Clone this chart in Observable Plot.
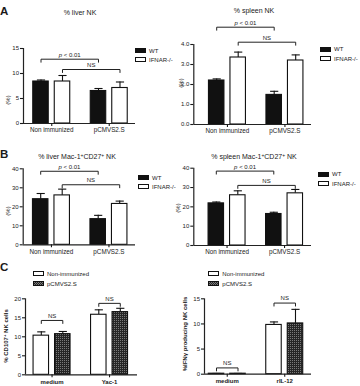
<!DOCTYPE html>
<html>
<head>
<meta charset="utf-8">
<script src="https://cdn.jsdelivr.net/npm/d3@7"></script>
<script src="https://cdn.jsdelivr.net/npm/@observablehq/plot@0.6"></script>
<style>
  body { margin: 0; background: #fff; }
  #fig { position: relative; width: 360px; height: 386px; overflow: hidden;
         font-family: "Liberation Sans", Arial, Helvetica, sans-serif; color: #1a1a1a; }
  #fig svg.plot { position: absolute; overflow: visible; }
  .abs { position: absolute; white-space: nowrap; line-height: 1; }
  .letter { font-weight: bold; font-size: 11.5px; }
  .title { font-size: 7px; transform: translateX(-50%); }
  .leg { font-size: 6px; display: flex; align-items: center; height: 5px; }
  .sw { box-sizing: border-box; width: 11px; height: 5px; border: 1px solid #111; margin-right: 3px; }
  .ylab { font-size: 6px; transform: translate(-50%, -50%) rotate(-90deg); }
  .bold { font-weight: bold; }
  sup { font-size: 70%; line-height: 0; vertical-align: 0.45em; }
</style>
</head>
<body>
<svg width="0" height="0" style="position:absolute">
  <defs>
    <pattern id="dots" width="2" height="2" patternUnits="userSpaceOnUse">
      <rect width="2" height="2" fill="#262626"></rect>
      <rect width="1" height="1" fill="#7a7a7a"></rect>
    </pattern>
  </defs>
</svg>
<div id="fig"></div>
<script>
// ---- data (means and SEM, order: group 1 series 1, group 1 series 2, group 2 series 1, group 2 series 2)
const immGroups = ["Non immunized", "pCMVS2.S"];
const mouseSeries = ["WT", "IFNAR-/-"];

const liverNK = [8.4, 8.4, 6.5, 7.1];
const liverNKsem = [0.3, 1.2, 0.5, 1.2];

const spleenNK = [2.2, 3.35, 1.48, 3.2];
const spleenNKsem = [0.08, 0.27, 0.18, 0.28];

const liverMac = [24.0, 26.0, 13.5, 21.5];
const liverMacSem = [3.0, 3.3, 2.0, 1.5];

const spleenMac = [21.8, 26.0, 16.3, 27.0];
const spleenMacSem = [0.7, 2.3, 0.9, 2.0];

const stimGroupsC1 = ["medium", "Yac-1"];
const stimGroupsC2 = ["medium", "rIL-12"];
const immSeries = ["Non-immunized", "pCMVS2.S"];

const cd107 = [10.3, 10.7, 15.8, 16.5];
const cd107sem = [1.0, 0.7, 1.3, 1.0];

const ifng = [0.1, 0.1, 9.8, 10.1];
const ifngSem = [0.05, 0.05, 0.6, 2.8];

// ---- drawing helpers
const fig = document.getElementById("fig");
const BAR_STEP = 21.5;     // px between neighbouring bars of a group
const GROUP_STEP = 2.674;  // distance between groups, in bar steps
const HALF_BAR = 0.36;
const HALF_CAP = 0.19;

function addDiv(cls, html, left, top) {
  const d = document.createElement("div");
  d.className = "abs " + cls;
  d.innerHTML = html;
  d.style.left = left + "px";
  d.style.top = top + "px";
  fig.appendChild(d);
  return d;
}

function legend(items, left, top, gap) {
  items.forEach(([label, fill], i) => {
    const d = addDiv("leg", "", left, top + i * gap);
    const sw = document.createElement("div");
    sw.className = "sw";
    sw.style.background = fill === "url(#dots)" ? "repeating-conic-gradient(#262626 0 25%, #7a7a7a 0 50%) 0 0/2px 2px" : fill;
    d.appendChild(sw);
    d.appendChild(document.createTextNode(label));
  });
}

function panel(cfg) {
  const {groups, series, mean, sem, fills, yMax, yTicks, box, brackets, boldX} = cfg;
  const {left, top, w, h, axisL, axisR, firstC, y0, yTop} = box;
  const rows = mean.map((v, i) => {
    const g = Math.floor(i / series.length), s = i % series.length;
    return {g, s, v, e: sem[i], c: g * GROUP_STEP + s};
  });
  const centers = groups.map((_, g) => g * GROUP_STEP + (series.length - 1) / 2);
  const x0 = (axisL - firstC) / BAR_STEP, x1 = (axisR - firstC) / BAR_STEP;
  const leg = 3 / ((y0 - yTop) / yMax);
  const pts = [];
  brackets.forEach((b, k) => {
    const xa = rows[b.from].c, xb = rows[b.to].c;
    pts.push({k, x: xa, y: b.level - leg}, {k, x: xa, y: b.level},
             {k, x: xb, y: b.level}, {k, x: xb, y: b.level - leg});
  });
  const bars = series.map((_, s) =>
    Plot.rectY(rows.filter(d => d.s === s), {
      x1: d => d.c - HALF_BAR, x2: d => d.c + HALF_BAR, y: "v",
      fill: fills[s], stroke: "#111", strokeWidth: 1.1
    }));
  const svg = Plot.plot({
    width: w, height: h,
    marginLeft: axisL, marginRight: w - axisR, marginTop: yTop, marginBottom: h - y0,
    x: {domain: [x0, x1]},
    y: {domain: [0, yMax]},
    style: {fontFamily: '"Liberation Sans", Arial, sans-serif', fontSize: "6px", color: "#1a1a1a", background: "transparent", overflow: "visible"},
    marks: [
      Plot.ruleX(rows, {x: "c", y1: "v", y2: d => d.v + d.e, strokeWidth: 1.1, stroke: "#111"}),
      Plot.link(rows, {x1: d => d.c - HALF_CAP, x2: d => d.c + HALF_CAP, y1: d => d.v + d.e, y2: d => d.v + d.e, strokeWidth: 1.1, stroke: "#111"}),
      ...bars,
      Plot.ruleY([0], {x1: x0, x2: x1, strokeWidth: 1.2, stroke: "#222"}),
      Plot.ruleX([x0], {y1: 0, y2: yMax, strokeWidth: 1.2, stroke: "#222"}),
      Plot.axisY({ticks: yTicks, tickSize: 3, tickPadding: 1.5, label: null, strokeWidth: 1.1}),
      Plot.axisX({ticks: centers, tickFormat: d => groups[centers.indexOf(d)], tickSize: 3, tickPadding: 1.5,
                  label: null, strokeWidth: 1.1, fontSize: boldX ? 6 : 6.3, fontWeight: boldX ? "bold" : "normal"}),
      Plot.line(pts, {x: "x", y: "y", z: "k", strokeWidth: 1, stroke: "#222"}),
      Plot.text(brackets, {x: b => (rows[b.from].c + rows[b.to].c) / 2, y: "level", text: "label", dy: -4.5, fontSize: 6})
    ]
  });
  svg.classList.add("plot");
  svg.style.left = left + "px";
  svg.style.top = top + "px";
  d3.select(svg).selectAll("text").each(function () {
    if (this.textContent === "p < 0.01") {
      this.innerHTML = '<tspan font-style="italic">p</tspan> &lt; 0.01';
    }
  });
  fig.appendChild(svg);
}

const fillsAB = ["#111", "#fff"];
const fillsC = ["#fff", "url(#dots)"];

// ---- A
panel({groups: immGroups, series: mouseSeries, mean: liverNK, sem: liverNKsem, fills: fillsAB,
  yMax: 15, yTicks: [0, 5, 10, 15],
  box: {left: 0, top: 0, w: 180, h: 140, axisL: 23, axisR: 135, firstC: 40.5, y0: 123, yTop: 48},
  brackets: [{from: 0, to: 2, level: 12.86, label: "p < 0.01"}, {from: 1, to: 3, level: 10.8, label: "NS"}]});
panel({groups: immGroups, series: mouseSeries, mean: spleenNK, sem: spleenNKsem, fills: fillsAB,
  yMax: 4, yTicks: [0, 1, 2, 3, 4],
  box: {left: 180, top: 0, w: 180, h: 140, axisL: 13.3, axisR: 131, firstC: 36.2, y0: 124, yTop: 44},
  brackets: [{from: 0, to: 2, level: 4.865, label: "p < 0.01"}, {from: 1, to: 3, level: 4.115, label: "NS"}]});

// ---- B
panel({groups: immGroups, series: mouseSeries, mean: liverMac, sem: liverMacSem, fills: fillsAB,
  yMax: 40, yTicks: [0, 10, 20, 30, 40],
  box: {left: 0, top: 140, w: 180, h: 120, axisL: 22.7, axisR: 135, firstC: 40.2, y0: 104.3, yTop: 28.3},
  brackets: [{from: 0, to: 2, level: 38.7, label: "p < 0.01"}, {from: 1, to: 3, level: 31.6, label: "NS"}]});
panel({groups: immGroups, series: mouseSeries, mean: spleenMac, sem: spleenMacSem, fills: fillsAB,
  yMax: 40, yTicks: [0, 10, 20, 30, 40],
  box: {left: 180, top: 140, w: 180, h: 120, axisL: 13.3, axisR: 131, firstC: 35.8, y0: 105, yTop: 27.7},
  brackets: [{from: 0, to: 2, level: 38.5, label: "p < 0.01"}, {from: 1, to: 3, level: 31.1, label: "NS"}]});

// ---- C
panel({groups: stimGroupsC1, series: immSeries, mean: cd107, sem: cd107sem, fills: fillsC, boldX: true,
  yMax: 20, yTicks: [0, 5, 10, 15, 20],
  box: {left: 0, top: 260, w: 180, h: 126, axisL: 25, axisR: 137, firstC: 40.8, y0: 114.3, yTop: 38.3},
  brackets: [{from: 0, to: 1, level: 14.3, label: "NS"}, {from: 2, to: 3, level: 18.8, label: "NS"}]});
panel({groups: stimGroupsC2, series: immSeries, mean: ifng, sem: ifngSem, fills: fillsC, boldX: true,
  yMax: 15, yTicks: [0, 5, 10, 15],
  box: {left: 180, top: 260, w: 180, h: 126, axisL: 24, axisR: 131, firstC: 36, y0: 113.7, yTop: 38.3},
  brackets: [{from: 0, to: 1, level: 1.25, label: "NS"}, {from: 2, to: 3, level: 14.15, label: "NS"}]});

// ---- panel letters, titles, axis labels, legends
addDiv("letter", "A", 0, 5.5);
addDiv("letter", "B", 0, 148.5);
addDiv("letter", "C", 0, 261.5);

addDiv("title", "% liver NK", 80, 9.4);
addDiv("title", "% spleen NK", 254, 6.7);
addDiv("title", "% liver Mac-1<sup>+</sup>CD27<sup>+</sup> NK", 77, 152.5);
addDiv("title", "% spleen Mac-1<sup>+</sup>CD27<sup>+</sup> NK", 254, 152.5);

addDiv("ylab", "(%)", 7.5, 100);
addDiv("ylab", "(%)", 180.5, 83);
addDiv("ylab", "(%)", 7.5, 211);
addDiv("ylab", "(%)", 178, 208);
addDiv("ylab bold", "% CD107<sup>+</sup> NK cells", 5.5, 336);
addDiv("ylab bold", "%IFN&gamma; producing NK cells", 185, 333.5);

legend(mouseSeries.map((s, i) => [s, fillsAB[i]]), 135, 48, 9);
legend(mouseSeries.map((s, i) => [s, fillsAB[i]]), 320, 46.7, 9.3);
legend(mouseSeries.map((s, i) => [s, fillsAB[i]]), 138, 175, 9);
legend(mouseSeries.map((s, i) => [s, fillsAB[i]]), 318, 171.7, 9.3);
legend(immSeries.map((s, i) => [s, fillsC[i]]), 33, 271, 10);
legend(immSeries.map((s, i) => [s, fillsC[i]]), 208.3, 271, 10);
</script>
</body>
</html>
